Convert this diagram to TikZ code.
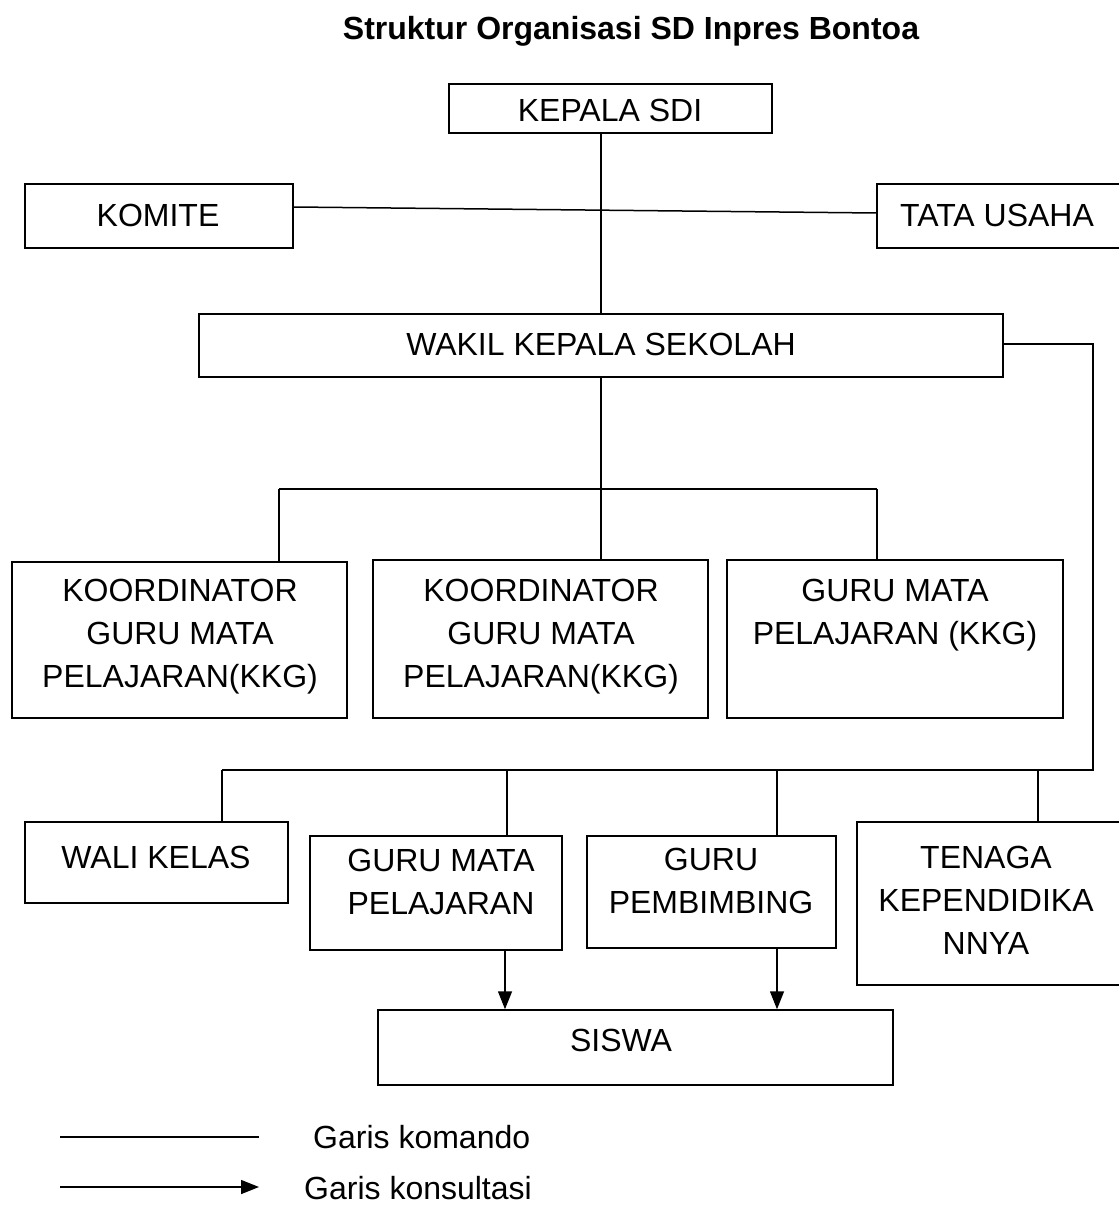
\documentclass[tikz,border=0pt]{standalone}
\usepackage{fontspec}
\setmainfont{Liberation Sans}
\usetikzlibrary{arrows.meta}
\begin{document}
\begin{tikzpicture}[x=1pt,y=-1pt,
  box/.style={draw, line width=1.5pt, inner sep=0pt},
  txt/.style={inner sep=0pt, align=center, font=\fontsize{32}{43}\selectfont},
  conn/.style={line width=1.5pt},
  cons/.style={line width=1.5pt, -{Triangle[length=18pt,width=14pt]}}]
\fill[white] (0,0) rectangle (1118,1222);
\useasboundingbox (0,0) rectangle (1118,1222);

% title
\node[txt, font=\fontsize{32}{43}\selectfont\bfseries] (title) at (631,31) {Struktur Organisasi SD Inpres Bontoa};

% boxes
\node[box, minimum width=323pt, minimum height=49pt] (kep) at (610.5,108.5) {};
\node[box, minimum width=268pt, minimum height=64pt] (kom) at (159,216) {};
\node[box, minimum width=246pt, minimum height=64pt] (tu) at (1000,216) {};
\node[box, minimum width=804pt, minimum height=63pt] (wak) at (601,345.5) {};
\node[box, minimum width=335pt, minimum height=156pt] (k1) at (179.5,640) {};
\node[box, minimum width=335pt, minimum height=158pt] (k2) at (540.5,639) {};
\node[box, minimum width=336pt, minimum height=158pt] (k3) at (895,639) {};
\node[box, minimum width=263pt, minimum height=81pt] (wali) at (156.5,862.5) {};
\node[box, minimum width=252pt, minimum height=114pt] (gmp) at (436,893) {};
\node[box, minimum width=249pt, minimum height=112pt] (gp) at (711.5,892) {};
\node[box, minimum width=266pt, minimum height=163pt] (ten) at (990,903.5) {};
\node[box, minimum width=515pt, minimum height=75pt] (sis) at (635.5,1047.5) {};

% texts
\node[txt] (tkep) at (610,110) {KEPALA SDI};
\node[txt] (tkom) at (158,215) {KOMITE};
\node[txt] (ttu) at (997,215) {TATA USAHA};
\node[txt] (twak) at (601,344) {WAKIL KEPALA SEKOLAH};
\node[txt] (tk1) at (180,637) {KOORDINATOR\\GURU MATA\\PELAJARAN(KKG)};
\node[txt] (tk2) at (541,637) {KOORDINATOR\\GURU MATA\\PELAJARAN(KKG)};
\node[txt] (tk3) at (895,615) {GURU MATA\\PELAJARAN (KKG)};
\node[txt] (twali) at (156,857) {WALI KELAS};
\node[txt] (tgmp) at (441,882) {GURU MATA\\PELAJARAN};
\node[txt] (tgp) at (711,880.5) {GURU\\PEMBIMBING};
\node[txt] (tten) at (986,900) {TENAGA\\KEPENDIDIKA\\NNYA};
\node[txt] (tsis) at (621,1040) {SISWA};

% command lines
\draw[conn] (wak.north) -- (wak.north |- kep.south);
\draw[conn] ([yshift=9pt]kom.east) -- ([yshift=3pt]tu.west);
\draw[conn] (wak.south) -- (wak.south |- k2.north);
\coordinate (hl) at (279,489);
\coordinate (hr) at (877,489);
\draw[conn] (hl) -- (hr);
\draw[conn] (hl) -- (hl |- k1.north);
\draw[conn] (hr) -- (hr |- k3.north);

\coordinate (rc1) at (1093,344);
\coordinate (rc2) at (1093,770);
\coordinate (lc) at (222,770);
\draw[conn] (wak.east |- rc1) -- (rc1) -- (rc2) -- (lc);
\coordinate (b1) at (507,770);
\coordinate (b2) at (777,770);
\coordinate (b3) at (1038,770);
\draw[conn] (lc) -- (lc |- wali.north);
\draw[conn] (b1) -- (b1 |- gmp.north);
\draw[conn] (b2) -- (b2 |- gp.north);
\draw[conn] (b3) -- (b3 |- ten.north);

% consultation arrows
\coordinate (a1) at (505,950);
\coordinate (a2) at (777,948);
\draw[cons] (a1) -- (a1 |- sis.north);
\draw[cons] (a2) -- (a2 |- sis.north);

% legend
\coordinate (la1) at (60,1137);
\coordinate (lb1) at (259,1137);
\coordinate (la2) at (60,1187);
\coordinate (lb2) at (259,1187);
\draw[conn] (la1) -- (lb1);
\draw[cons] (la2) -- (lb2);
\node[txt, anchor=west] (lg1) at (313,1137) {Garis komando};
\node[txt, anchor=west] (lg2) at (304,1188) {Garis konsultasi};
\end{tikzpicture}
\end{document}
